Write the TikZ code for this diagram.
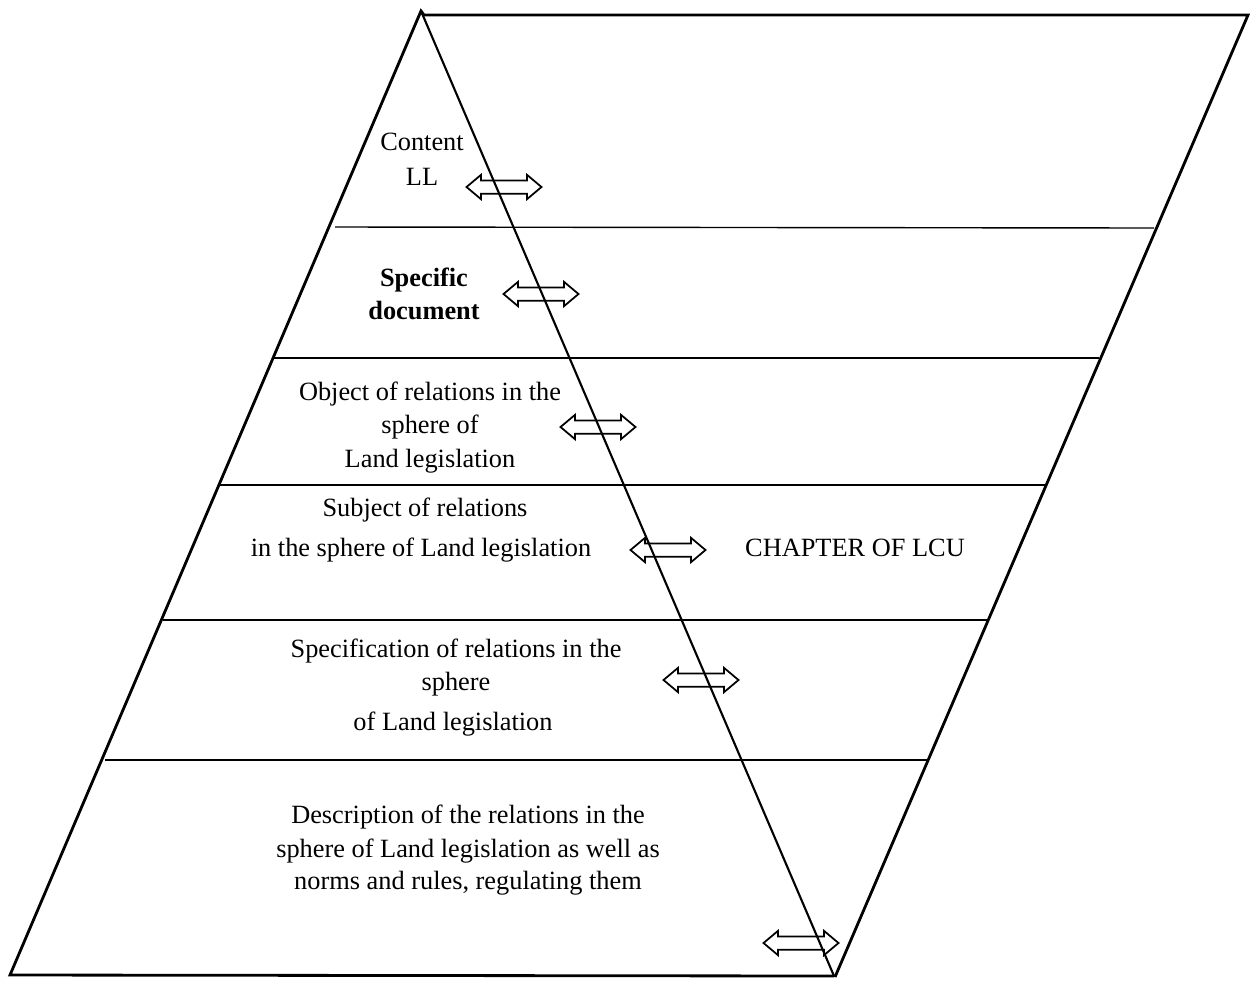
\documentclass[tikz,border=0pt]{standalone}
\usepackage{fontspec}
\setmainfont{Liberation Serif}
\usetikzlibrary{shapes.arrows}
\begin{document}
\begin{tikzpicture}[x=0.02cm,y=-0.02cm,
  outer/.style={line width=1.6pt,line join=miter},
  band/.style={line width=0.8pt},
  diag/.style={line width=1.2pt},
  lbl/.style={font=\fontsize{15}{18}\selectfont,anchor=base,inner sep=0pt},
  dbl/.style={double arrow,draw,fill=none,line width=1pt,minimum height=1.5cm,
    minimum width=0.44cm,inner xsep=0pt,inner ysep=0.115cm,double arrow head extend=0.11cm,
    double arrow tip angle=80,anchor=center}]
\useasboundingbox (0,0) rectangle (1250,981);
% frame corners
\coordinate (apex) at (421,11);
\coordinate (tr) at (1248,15);
\coordinate (bl) at (10,975);
\coordinate (bm) at (834,976);
\coordinate (br) at (835,977);
% bands
\draw[band] (335,227) -- (1154,228);
\draw[band] (274,358) -- (1099,358);
\draw[band] (220,485) -- (1045,485);
\draw[band] (163,620) -- (988,620);
\draw[band] (105,760) -- (929,760);
% arrows
\node[dbl] (a1) at (504,187) {};
\node[dbl] (a2) at (541,294) {};
\node[dbl] (a3) at (598,427) {};
\node[dbl] (a4) at (668,550) {};
\node[dbl] (a5) at (701,680) {};
\node[dbl] (a6) at (801,943) {};
% outline
\draw[outer] (bm) -- (bl) -- (apex) -- ++(3,4) -- (tr) -- (br);
\draw[diag] (apex) -- (bm);
% labels
\node[lbl] (t1a) at (422,150) {Content};
\node[lbl] (t1b) at (422,185) {LL};
\node[lbl,font=\fontsize{15}{18}\selectfont\bfseries] (t2a) at (424,286) {Specific};
\node[lbl,font=\fontsize{15}{18}\selectfont\bfseries] (t2b) at (424,319) {document};
\node[lbl] (t3a) at (430,400) {Object of relations in the};
\node[lbl] (t3b) at (430,433) {sphere of};
\node[lbl] (t3c) at (430,467) {Land legislation};
\node[lbl] (t4a) at (425,516) {Subject of relations};
\node[lbl] (t4b) at (421,556) {in the sphere of Land legislation};
\node[lbl] (t4c) at (855,556) {CHAPTER OF LCU};
\node[lbl] (t5a) at (456,657) {Specification of relations in the};
\node[lbl] (t5b) at (456,690) {sphere};
\node[lbl] (t5c) at (453,730) {of Land legislation};
\node[lbl] (t6a) at (468,823) {Description of the relations in the};
\node[lbl] (t6b) at (468,857) {sphere of Land legislation as well as};
\node[lbl] (t6c) at (468,889) {norms and rules, regulating them};
\end{tikzpicture}
\end{document}
